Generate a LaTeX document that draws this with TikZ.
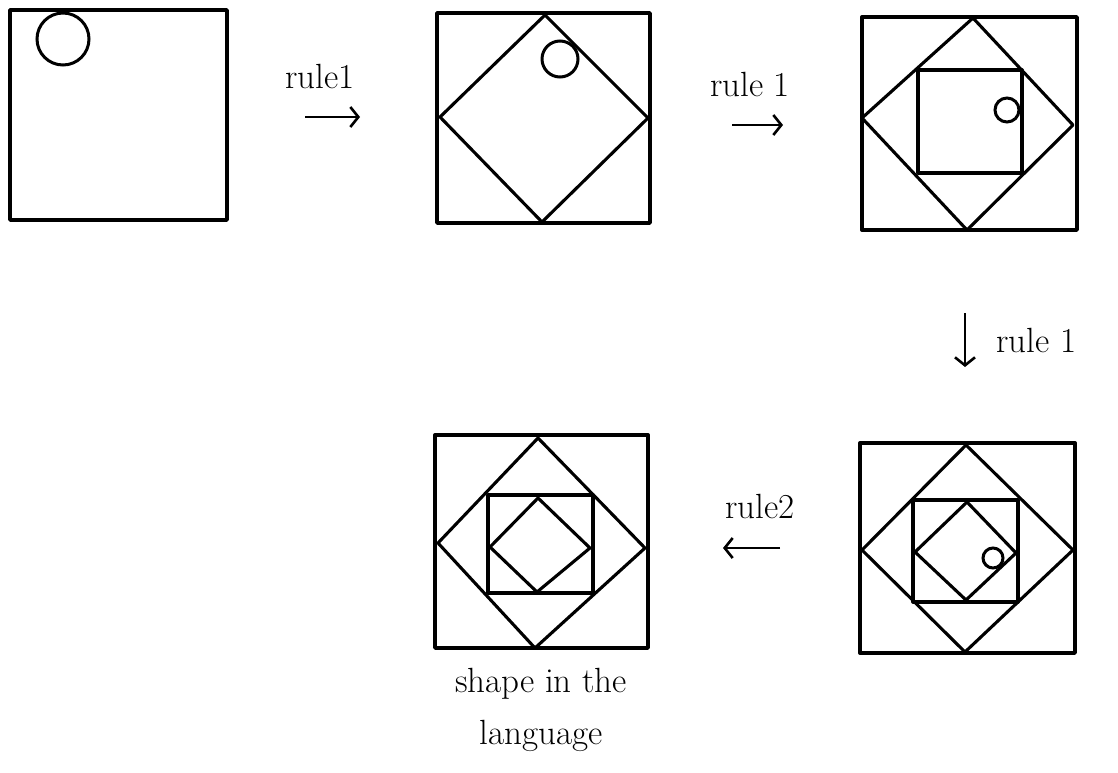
\documentclass[tikz,border=0pt]{standalone}
\usepackage{tikz}
\usetikzlibrary{arrows.meta}

\begin{document}
\begin{tikzpicture}[x=1pt,y=-1pt,
    frame/.style={line width=3.4pt,line join=round},
    cut/.style={line width=3.1pt,line join=round},
    marker/.style={line width=3pt},
    rulearr/.style={line width=2.6pt,-{Straight Barb[length=8pt,width=20pt,line width=2.6pt]}},
    rulelab/.style={font=\fontsize{35}{52}\selectfont,inner sep=0pt}]
  \useasboundingbox (0,0) rectangle (1118,772);
  % start shape
  \draw[frame] (10,10) rectangle (227,220);
  \draw[marker] (63,39) circle (26);
  % after rule 1
  \draw[frame] (437,13) rectangle (650,223);
  \draw[cut] (545,15) -- (648,118) -- (542,222) -- (440,117) -- cycle;
  \draw[marker] (560,59) circle (18);
  % after rule 1 twice
  \draw[frame] (862,17) rectangle (1077,230);
  \draw[cut] (973,18) -- (1073,125) -- (967,230) -- (862,118) -- cycle;
  \draw[cut] (918,70) rectangle (1022,173);
  \draw[marker] (1007,110) circle (12);
  % after rule 1 three times
  \draw[frame] (860,443) rectangle (1075,653);
  \draw[cut] (966,445) -- (1073,550) -- (965,652) -- (862,550) -- cycle;
  \draw[cut] (913,500) rectangle (1018,602);
  \draw[cut] (967,502) -- (1016,553) -- (966,600) -- (915,552) -- cycle;
  \draw[marker] (993,558) circle (10);
  % final shape
  \draw[frame] (435,435) rectangle (648,648);
  \draw[cut] (538,438) -- (645,548) -- (535,648) -- (438,543) -- cycle;
  \draw[cut] (488,495) rectangle (593,593);
  \draw[cut] (538,498) -- (590,548) -- (537,592) -- (490,547) -- cycle;

  % rule arrows
  \coordinate (r1a) at (305,117); \coordinate (r1b) at (360,117);
  \coordinate (r2a) at (732,125); \coordinate (r2b) at (783,125);
  \coordinate (r3a) at (965,313); \coordinate (r3b) at (965,367);
  \coordinate (r4a) at (780,548); \coordinate (r4b) at (723,548);
  \draw[rulearr] (r1a) -- (r1b);
  \draw[rulearr] (r2a) -- (r2b);
  \draw[rulearr] (r3a) -- (r3b);
  \draw[rulearr] (r4a) -- (r4b);
  \node[rulelab] (l1) at (320,76) {rule1};
  \node[rulelab] (l2) at (750,84) {rule 1};
  \node[rulelab,anchor=west] (l3) at (996,340) {rule 1};
  \node[rulelab] (l4) at (760,506) {rule2};
  \node[rulelab,align=center] (lang) at (541,710) {shape in the\\language};
\end{tikzpicture}
\end{document}
